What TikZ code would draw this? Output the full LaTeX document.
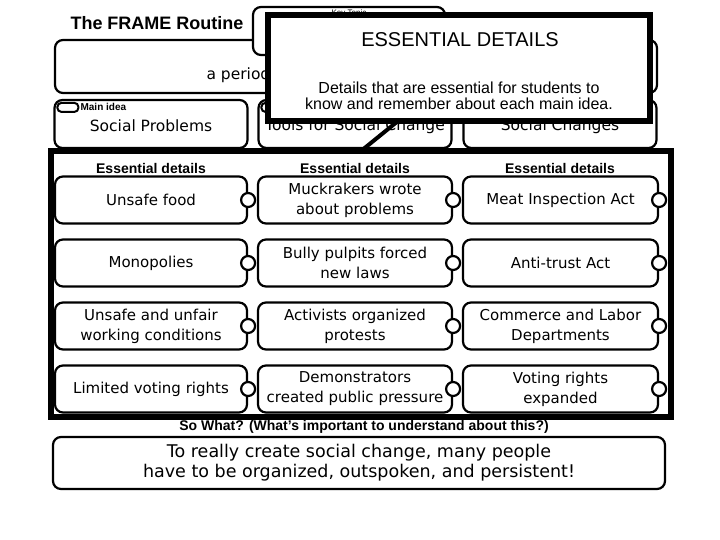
\documentclass[tikz,border=0pt]{standalone}
\usepackage{fontspec}
\setmainfont{Liberation Sans}
\newfontfamily\handfont{DejaVu Sans}

\tikzset{
    card/.style={draw, fill=white, line width=2.2pt, rounded corners=8pt,
        minimum height=47pt, inner sep=2pt, align=center,
        font=\handfont\fontsize{15}{20}\selectfont},
    knob/.style={draw, circle, fill=white, line width=2.2pt,
        minimum size=14pt, inner sep=0pt},
    colhead/.style={font=\bfseries\fontsize{14}{16}\selectfont},
    ideatext/.style={font=\handfont\fontsize{15.5}{18}\selectfont},
}

\begin{document}
\begin{tikzpicture}[x=1pt, y=-1pt]
    \useasboundingbox (0,0) rectangle (720,540);

    \node[font=\bfseries\fontsize{18}{20}\selectfont] (title) at (157,23) {The FRAME Routine};

    \node[card, minimum width=602pt, minimum height=53pt] (topic) at (356,66.5) {};
    \node[ideatext, anchor=west] (period) at (203,75) {a period};
    \node[card, minimum width=192pt, minimum height=48pt] (keytopic) at (349,31) {};
    \node[font=\fontsize{8}{9}\selectfont, anchor=north] (keylabel) at (keytopic.north) {Key Topic};

    \foreach \txt/\cx [count=\j] in {Social Problems/151, Tools for Social Change/355, Social Changes/560} {
        \node[card, minimum width=193pt, minimum height=48pt] (idea\j) at (\cx,124) {};
        \node[ideatext] (ideatxt\j) at (\cx,126) {\txt};
        \node[draw, line width=2pt, rounded corners=4pt, minimum width=21pt, minimum height=9pt,
            inner sep=0pt, anchor=north west] (oval\j) at ([shift={(3pt,-3pt)}]idea\j.north west) {};
    }
    \node[font=\bfseries\fontsize{10}{11}\selectfont, anchor=west, inner sep=1pt] (mainlabel) at (oval1.east) {Main idea};

    \node[draw, line width=6pt, minimum width=620pt, minimum height=266pt] (frame) at (361,284) {};

    \foreach \cx [count=\j] in {151,355,560} {
        \node[colhead] (head\j) at (\cx,168) {Essential details};
    }

    \foreach \ta/\tb/\tc [count=\i] in {
        {Unsafe food}/{Muckrakers wrote\\about problems}/{Meat Inspection Act},
        {Monopolies}/{Bully pulpits forced\\new laws}/{Anti-trust Act},
        {Unsafe and unfair\\working conditions}/{Activists organized\\protests}/{Commerce and Labor\\Departments},
        {Limited voting rights}/{Demonstrators\\created public pressure}/{Voting rights\\expanded}} {
        \pgfmathsetmacro{\y}{137+63*\i}
        \node[card, minimum width=192pt] (a\i) at (151,\y) {\ta};
        \node[card, minimum width=194pt] (b\i) at (355,\y) {\tb};
        \node[card, minimum width=195pt] (c\i) at (560.5,\y) {\tc};
        \node[knob] (ka\i) at (a\i.east) {};
        \node[knob] (kb\i) at (b\i.east) {};
        \node[knob] (kc\i) at (c\i.east) {};
    }

    \node[font=\bfseries\fontsize{14}{16}\selectfont] (sowhat) at (364,427)
        {So What? (What’s important to understand about this?)};
    \node[card, minimum width=612pt, minimum height=52pt, font=\handfont\fontsize{17.5}{20}\selectfont]
        (answer) at (359,463) {To really create social change, many people\\have to be organized, outspoken, and persistent!};

    \node[draw, fill=white, line width=6pt, minimum width=382pt, minimum height=106pt] (callout) at (459,68) {};
    \node[font=\fontsize{20}{22}\selectfont] (calltitle) at (460,40) {ESSENTIAL DETAILS};
    \node[align=center, font=\fontsize{16}{16}\selectfont] (calltext) at (459,96)
        {Details that are essential for students to\\know and remember about each main idea.};
    \coordinate (ptr) at (398,121);
    \draw[line width=4pt] (ptr) -- (353,151 -| frame.north);
\end{tikzpicture}
\end{document}
